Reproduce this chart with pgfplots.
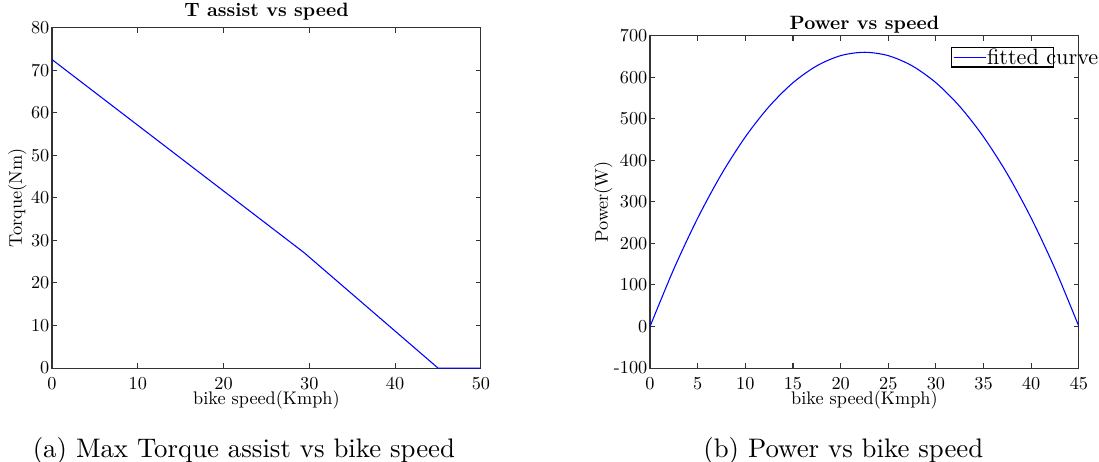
\documentclass[border=0pt]{standalone}
\usepackage{fontspec}
\newfontfamily\axfont{lmroman10-regular}[Extension=.otf, BoldFont=lmroman10-bold]
\newcommand\ax{\axfont\fontsize{6.8}{8}\selectfont}
\usepackage{pgfplots}
\pgfplotsset{compat=1.18}
\begin{document}
\begin{tikzpicture}
\pgfplotsset{
  every axis/.append style={
    scale only axis,
    width=160pt,
    font=\ax,
    /pgf/number format/assume math mode=true,
    title style={font=\axfont\fontsize{7.2}{8.5}\selectfont\bfseries, anchor=center},
    axis line style={black!80},
    every tick/.style={black!80},
    tick align=inside,
    major tick length=2pt,
    yticklabel style={xshift=2.5pt},
  }
}
\path[use as bounding box] (0,0) rectangle (410pt,172pt);
\begin{axis}[
  at={(19.4pt,34.7pt)}, anchor=south west,
  height=127pt,
  xmin=0, xmax=50, ymin=0, ymax=80,
  xtick={0,10,...,50}, ytick={0,10,...,80},
  title={T assist vs speed},
  title style={at={(axis description cs:0.5,1)}},
  xlabel={bike speed(Kmph)},
  ylabel={Torque(Nm)},
  xlabel style={at={(axis description cs:0.5,-0.094)}, anchor=center},
  ylabel style={at={(axis description cs:-0.081,0.5)}, anchor=center},
]
\addplot[blue, line width=0.4pt] coordinates {
  (0,72.5) (29.4,27.1) (45,0) (50,0)
};
\end{axis}
\begin{axis}[
  at={(242.5pt,34.7pt)}, anchor=south west,
  height=124pt,
  xmin=0, xmax=45, ymin=-100, ymax=700,
  xtick={0,5,...,45}, ytick={-100,0,...,700},
  yticklabels={-100,0,100,200,300,400,500,600,700},
  title={Power vs speed},
  title style={at={(axis description cs:0.5,0.985)}},
  xlabel={bike speed(Kmph)},
  ylabel={Power(W)},
  xlabel style={at={(axis description cs:0.5,-0.097)}, anchor=center},
  ylabel style={at={(axis description cs:-0.109,0.5)}, anchor=center},
  legend style={at={(0.942,0.967)}, anchor=north east, draw=black,
    inner sep=0.5pt, font=\axfont\fontsize{8.3}{9.5}\selectfont,
    nodes={inner sep=0.3pt, text height=5.8pt, text depth=0pt}},
  legend cell align=left,
  legend image code/.code={\draw[blue, line width=0.4pt] (0cm,0pt) -- (0.42cm,0pt);},
]
\addplot[blue, line width=0.4pt, smooth] coordinates {
  (0,0) (2.5,138.5) (5,260.7) (7.5,366.7) (10,456.3) (12.5,529.6)
  (15,586.7) (17.5,627.4) (20,651.9) (22.5,660) (25,651.9) (27.5,627.4)
  (30,586.7) (32.5,529.6) (35,456.3) (37.5,366.7) (40,260.7) (42.5,138.5) (45,0)
};
\addlegendentry{\makebox[24pt][l]{fitted curve}}
\end{axis}
\node[font=\normalsize] at (91pt,4pt) {(a) Max Torque assist vs bike speed};
\node[font=\normalsize] at (314.6pt,4pt) {(b) Power vs bike speed};
\end{tikzpicture}
\end{document}
